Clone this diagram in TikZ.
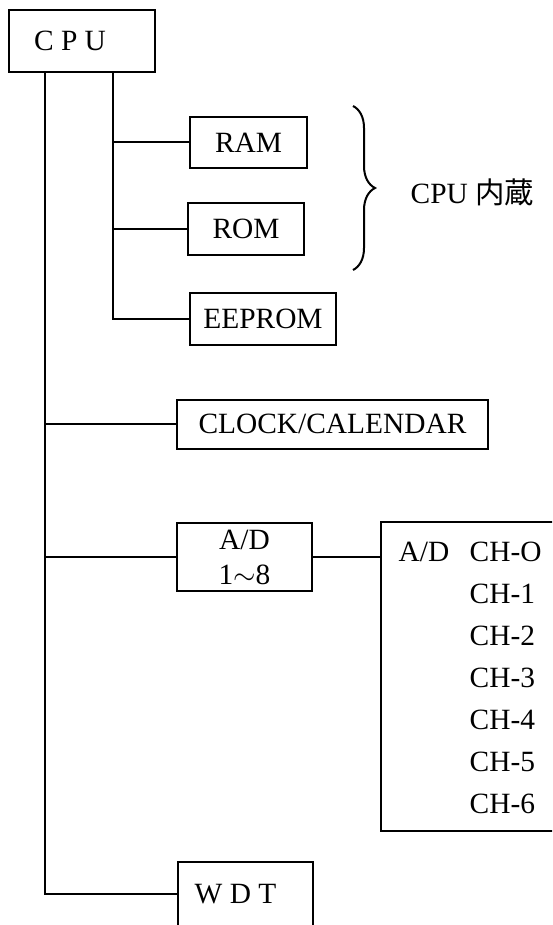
\documentclass[tikz,border=0pt]{standalone}
\usepackage{fontspec}
\setmainfont{Liberation Serif}
\newfontfamily\jpfont{Noto Sans CJK JP}
\usetikzlibrary{decorations.pathreplacing}

\begin{document}
\begin{tikzpicture}[x=0.5pt,y=-0.5pt,line width=1pt,
  every node/.style={font=\fontsize{14.7}{16}\selectfont},
  unit/.style={draw,inner sep=0pt,line width=1pt,align=center}]
\useasboundingbox (0,0) rectangle (552,925);
\clip (0,0) rectangle (552,925);
\node[unit,minimum width=73pt,minimum height=31pt] (cpu) at (82,41) {C P U\hspace{12pt}};
\node[unit,minimum width=58.5pt,minimum height=25.5pt] (ram) at (248.5,142.5) {RAM};
\node[unit,minimum width=58pt,minimum height=26pt] (rom) at (246,229) {ROM};
\node[unit,minimum width=73pt,minimum height=26pt] (eeprom) at (263,319) {EEPROM};
\node[unit,minimum width=155.5pt,minimum height=24.5pt] (clock) at (332.5,424) {CLOCK/CALENDAR};
\node[unit,minimum width=67.5pt,minimum height=34pt,font=\fontsize{14.7}{17.5}\selectfont] (ad) at (244.5,557) {A/D\\1$\sim$8};
\node[unit,anchor=north west,minimum width=110pt,minimum height=154.5pt] (adch) at (380,521) {};
\node[unit,minimum width=67.5pt,minimum height=32pt] (wdt) at (245.5,894) {W D T\hspace{10pt}};
\coordinate (bus1) at (45,72);
\coordinate (bus2) at (113,72);
\coordinate (brtop) at (353,106);
\coordinate (brbot) at (353,270);
\draw[decorate,decoration={brace,amplitude=11pt}] (brtop) -- (brbot);
\node[anchor=west] (inner) at (403,192) {CPU {\jpfont 内蔵}};
\node[anchor=base west] (adname) at (391,561) {A/D};
\foreach \i/\t in {0/O,1/1,2/2,3/3,4/4,5/5,6/6}
  \node[anchor=base west] (ch\i) at (462,{561+42*\i}) {CH-\t};
\draw (bus1) |- (wdt.west);
\draw (bus1 |- clock.west) -- (clock.west);
\draw (bus1 |- ad.west) -- (ad.west);
\draw (bus2) |- (eeprom.west);
\draw (bus2 |- ram.west) -- (ram.west);
\draw (bus2 |- rom.west) -- (rom.west);
\draw (ad.east) -- (ad.east -| adch.west);
\end{tikzpicture}
\end{document}
